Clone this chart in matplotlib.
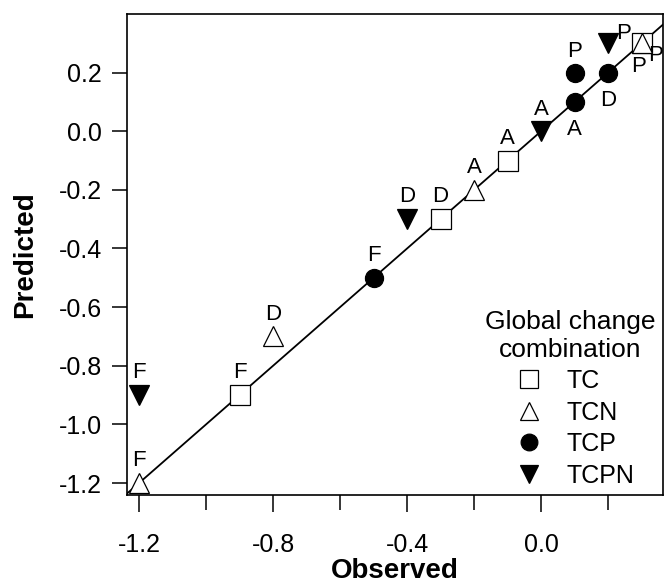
import matplotlib
matplotlib.use("Agg")
import matplotlib.pyplot as plt
from matplotlib.ticker import MultipleLocator, FuncFormatter
from matplotlib.lines import Line2D

plt.rcParams["font.family"] = ["Liberation Sans", "DejaVu Sans"]

# observed / predicted values per global change combination, with point labels
tc_obs = [-0.9, -0.3, -0.1, 0.3]
tc_pred = [-0.9, -0.3, -0.1, 0.3]
tc_lab = ["F", "D", "A", "P"]

tcn_obs = [-1.2, -0.8, -0.2, 0.3]
tcn_pred = [-1.2, -0.7, -0.2, 0.3]
tcn_lab = ["F", "D", "A", "P"]

tcp_obs = [-0.5, 0.1, 0.1, 0.2]
tcp_pred = [-0.5, 0.1, 0.2, 0.2]
tcp_lab = ["F", "A", "P", "D"]

tcpn_obs = [-1.2, -0.4, 0.0, 0.2]
tcpn_pred = [-0.9, -0.3, 0.0, 0.3]
tcpn_lab = ["F", "D", "A", "P"]

# label offsets (points) for each point, same order as above
tc_off = [(0, 16), (0, 16), (0, 16), (10, -9)]
tcn_off = [(0, 16), (0, 16), (0, 16), (-2, -17)]
tcp_off = [(0, 16), (0, -20), (0, 15), (0, -20)]
tcpn_off = [(0, 16), (0, 16), (0, 16), (11, 7)]

fig = plt.figure(figsize=(6.66, 5.83), dpi=100)
ax = fig.add_axes([0.1907, 0.1509, 0.8048, 0.8251])

ax.plot([-1.3, 0.45], [-1.3, 0.45], color="black", lw=1.3, zorder=1)

series = [
    (tc_obs, tc_pred, tc_lab, tc_off, "s", "white", 14, "TC"),
    (tcn_obs, tcn_pred, tcn_lab, tcn_off, "^", "white", 14, "TCN"),
    (tcp_obs, tcp_pred, tcp_lab, tcp_off, "o", "black", 13, "TCP"),
    (tcpn_obs, tcpn_pred, tcpn_lab, tcpn_off, "v", "black", 14, "TCPN"),
]
handles = []
for xs, ys, labs, offs, m, fc, ms, name in series:
    ax.plot(xs, ys, ls="none", marker=m, ms=ms, mfc=fc, mec="black", mew=0.9, zorder=3)
    for x, y, t, o in zip(xs, ys, labs, offs):
        ax.annotate(t, (x, y), xytext=o, textcoords="offset points",
                    ha="center", va="center", fontsize=16)
    handles.append(Line2D([], [], ls="none", marker=m, ms=ms - 1, mfc=fc, mec="black",
                          mew=0.9, label=name))

ax.set_xlim(-1.236, 0.364)
ax.set_ylim(-1.241, 0.40)
ax.set_xticks([-1.2, -0.8, -0.4, 0.0])
ax.xaxis.set_minor_locator(MultipleLocator(0.2))
ax.set_yticks([-1.2, -1.0, -0.8, -0.6, -0.4, -0.2, 0.0, 0.2])
fmt = FuncFormatter(lambda v, p: f"{v:.1f}".replace("-0.0", "0.0"))
ax.xaxis.set_major_formatter(fmt)
ax.yaxis.set_major_formatter(fmt)
ax.tick_params(axis="both", which="major", direction="out", width=1.1, labelsize=18)
ax.tick_params(axis="y", which="major", length=11, pad=7)
ax.tick_params(axis="x", which="major", length=12, pad=15)
ax.tick_params(axis="x", which="minor", direction="out", length=11, width=1.1)
for s in ax.spines.values():
    s.set_linewidth(1.2)

ax.set_xlabel("Observed", fontsize=20, fontweight="bold")
ax.set_ylabel("Predicted", fontsize=20, fontweight="bold")
ax.xaxis.label.set_verticalalignment("center")
ax.yaxis.label.set_verticalalignment("center")
ax.xaxis.set_label_coords(0.5, -0.158)
ax.yaxis.set_label_coords(-0.19, 0.5)

leg = ax.legend(handles=handles, title="Global change\ncombination", loc="lower right",
                bbox_to_anchor=(1.0, 0.0), frameon=False, fontsize=18, title_fontsize=19,
                handletextpad=0.6, labelspacing=0.3, borderaxespad=0.0, borderpad=0.3,
                handlelength=1.8)
leg.get_title().set_multialignment("center")

fig.savefig("out.png", dpi=100)
